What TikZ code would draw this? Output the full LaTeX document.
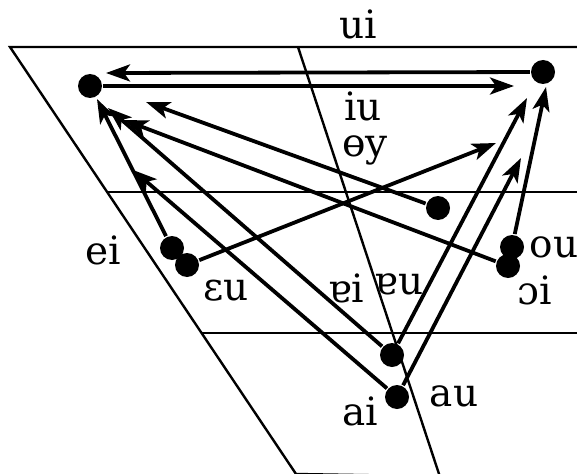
\documentclass[tikz,border=0pt]{standalone}
\usepackage{fontspec}
\setmainfont{DejaVu Serif}
\usetikzlibrary{arrows.meta}
\tikzset{
  dot/.style={circle, fill=black, inner sep=0pt, minimum size=24pt},
  glide/.style={line width=3.8pt, -{Stealth[length=24pt, width=17pt, inset=6pt]}},
  lbl/.style={font=\fontsize{39}{44}\selectfont, inner sep=0pt},
}
\begin{document}
\begin{tikzpicture}[x=1pt, y=-1pt, line width=2.4pt]
\useasboundingbox (0,0) rectangle (577,473);
\clip (0,0) rectangle (577,473);
% vowel chart
\draw (600,47) -- (10,47) -- (296,474) -- (600,479);
\draw (107,192) -- (600,192);
\draw (202,333) -- (600,333);
\draw (298,47) -- (441,480);
% dots
\node[dot] (i) at (90,86) {};
\node[dot] (u) at (543,72) {};
\node[dot] (oe) at (438,208) {};
\node[dot] (e) at (172,248) {};
\node[dot] (eps) at (187,265) {};
\node[dot] (o) at (512,247) {};
\node[dot] (oo) at (508,266) {};
\node[dot] (ae) at (392,355) {};
\node[dot] (a) at (397,397) {};
% arrow ends
\coordinate (ui-end) at (106,73);
\coordinate (iu-end) at (514,86);
\coordinate (ei-end) at (97,99);
\coordinate (aei-end) at (108,108);
\coordinate (ooi-end) at (124,120);
\coordinate (oey-end) at (146,102);
\coordinate (ai-end) at (133,170);
\coordinate (ou-end) at (546,87);
\coordinate (aeu-end) at (527,98);
\coordinate (au-end) at (521,158);
\coordinate (epsu-end) at (496,143);
% glides
\draw[glide] (u) -- (ui-end);
\draw[glide] (i) -- (iu-end);
\draw[glide] (e) -- (ei-end);
\draw[glide] (ae) -- (aei-end);
\draw[glide] (oo) -- (ooi-end);
\draw[glide] (oe) -- (oey-end);
\draw[glide] (a) -- (ai-end);
\draw[glide] (o) -- (ou-end);
\draw[glide] (ae) -- (aeu-end);
\draw[glide] (a) -- (au-end);
\draw[glide] (eps) -- (epsu-end);
% labels
\node[lbl] (l-ui) at (358,24) {ui};
\node[lbl] (l-iu) at (363,106) {iu};
\node[lbl] (l-oey) at (365,150) {ɵy};
\node[lbl] (l-ei) at (103,250) {ei};
\node[lbl] (l-epsu) at (226,291) {ɛu};
\node[lbl] (l-aei) at (346,288) {ɐi};
\node[lbl] (l-aeu) at (399,284) {ɐu};
\node[lbl] (l-ou) at (554,247) {ou};
\node[lbl] (l-ooi) at (535,290) {ɔi};
\node[lbl] (l-ai) at (360,411) {ai};
\node[lbl] (l-au) at (454,396) {au};
\end{tikzpicture}
\end{document}
